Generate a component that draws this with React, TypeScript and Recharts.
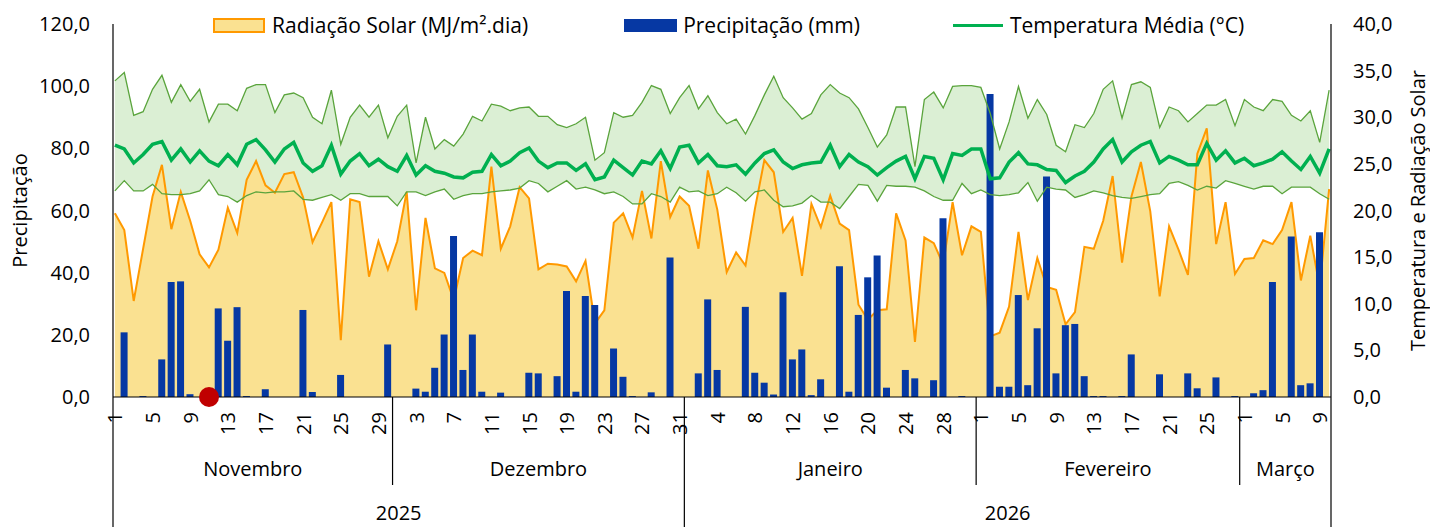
import React from "react";
import { ComposedChart, Area, Bar, Line, Scatter, XAxis, YAxis } from "recharts";

const FONT = "'Open Sans', 'Noto Sans', sans-serif";

const meses = [
  { nome: "Novembro", dias: 30, ano: 2025 },
  { nome: "Dezembro", dias: 31, ano: 2025 },
  { nome: "Janeiro", dias: 31, ano: 2026 },
  { nome: "Fevereiro", dias: 28, ano: 2026 },
  { nome: "Março", dias: 10, ano: 2026 },
];

const precipitacao = [
  0, 20.8, 0, 0.3, 0, 12.1, 37.0, 37.2, 0.9, 0,
  0, 28.5, 18.1, 28.9, 0.3, 0, 2.5, 0, 0, 0,
  28.0, 1.6, 0, 0, 7.1, 0, 0, 0, 0, 16.9,
  0, 0, 2.7, 1.7, 9.4, 20.1, 51.8, 8.7, 20.1, 1.7,
  0, 1.4, 0, 0, 7.8, 7.6, 0, 6.7, 34.1, 1.7,
  32.5, 29.6, 0, 15.6, 6.5, 0.3, 0, 1.5, 0, 44.9,
  0, 0, 7.6, 31.4, 8.7, 0, 0, 29.0, 7.8, 4.6,
  0.8, 33.7, 12.1, 15.3, 0.6, 5.7, 0, 42.1, 1.7, 26.4,
  38.5, 45.5, 3.0, 0, 8.7, 6.0, 0, 5.4, 57.5, 0,
  0.3, 0, 0, 97.5, 3.3, 3.3, 32.8, 3.8, 22.1, 70.9,
  7.6, 23.1, 23.5, 6.7, 0.3, 0.3, 0, 0.3, 13.7, 0,
  0, 7.3, 0, 0, 7.6, 2.8, 0, 6.3, 0, 0.3,
  0, 1.2, 2.2, 37.0, 0, 51.6, 3.8, 4.4, 53.0, 0,
];

const radiacao = [
  19.7, 17.9, 10.3, 15.9, 21.5, 24.9, 18.0, 22.0, 18.9, 15.3,
  13.9, 15.8, 20.3, 17.6, 23.3, 25.3, 22.7, 21.9, 23.9, 24.1,
  21.4, 16.6, 18.7, 20.9, 6.1, 21.2, 20.9, 12.9, 16.7, 13.7,
  16.7, 22.0, 9.3, 19.2, 13.8, 13.3, 10.4, 14.9, 15.7, 15.2,
  24.7, 15.9, 18.3, 22.5, 21.3, 13.7, 14.3, 14.2, 14.0, 12.4,
  14.6, 7.9, 9.3, 18.7, 19.7, 17.1, 22.1, 17.0, 25.3, 19.3,
  21.5, 20.5, 15.9, 24.3, 20.1, 13.4, 15.5, 14.1, 20.2, 25.4,
  24.1, 17.7, 19.2, 13.0, 20.7, 18.2, 21.6, 18.6, 17.9, 9.9,
  8.3, 9.3, 9.4, 19.7, 16.8, 5.9, 17.1, 16.5, 14.2, 20.9,
  15.2, 18.3, 17.7, 6.5, 6.9, 9.7, 17.7, 10.4, 14.9, 11.8,
  11.5, 7.8, 9.1, 16.1, 15.9, 18.9, 23.7, 14.4, 21.5, 25.2,
  19.9, 10.8, 18.3, 15.8, 13.1, 26.1, 28.8, 16.4, 20.9, 13.2,
  14.8, 14.9, 16.8, 16.4, 17.9, 20.9, 12.5, 17.3, 11.8, 22.3,
];

const tempMedia = [
  27.0, 26.6, 25.1, 26.0, 27.1, 27.4, 25.4, 26.6, 25.2, 26.4,
  25.3, 24.8, 26.0, 24.9, 27.1, 27.6, 26.5, 25.2, 26.6, 27.3,
  25.1, 24.2, 24.8, 27.0, 23.9, 25.3, 26.1, 24.8, 25.5, 24.7,
  24.2, 25.9, 23.8, 24.8, 24.2, 24.0, 23.6, 23.5, 24.1, 24.2,
  26.0, 24.8, 25.3, 26.2, 26.7, 25.3, 24.6, 25.1, 25.1, 24.3,
  25.0, 23.3, 23.6, 25.4, 24.6, 23.8, 25.3, 25.0, 26.4, 24.5,
  26.8, 27.0, 25.1, 26.0, 24.8, 24.7, 24.9, 23.9, 25.1, 26.1,
  26.5, 25.2, 24.5, 24.9, 25.1, 25.2, 27.0, 24.7, 26.0, 25.2,
  24.7, 23.8, 24.6, 25.3, 25.8, 23.4, 25.8, 25.6, 23.3, 26.1,
  25.9, 26.6, 26.6, 23.4, 23.5, 25.2, 26.2, 25.0, 24.9, 24.4,
  24.3, 23.0, 23.7, 24.2, 25.2, 26.6, 27.6, 25.2, 26.3, 27.0,
  27.4, 25.1, 25.8, 25.4, 24.9, 24.9, 27.2, 25.4, 26.4, 25.1,
  25.6, 24.8, 25.1, 25.5, 26.3, 25.3, 24.4, 25.8, 24.0, 26.6,
];

const tempMin = [
  22.1, 23.2, 22.1, 22.1, 22.8, 21.8, 21.7, 21.7, 21.8, 22.1,
  23.3, 21.7, 21.5, 20.9, 21.6, 22.0, 21.9, 22.0, 22.0, 22.1,
  21.2, 21.1, 21.4, 21.7, 21.1, 21.8, 21.8, 21.5, 21.5, 21.5,
  20.5, 22.0, 22.0, 21.6, 22.0, 22.3, 21.2, 21.6, 21.8, 21.8,
  22.0, 22.1, 22.2, 22.4, 23.2, 22.9, 22.0, 22.6, 23.2, 22.3,
  22.5, 22.2, 21.8, 22.0, 21.5, 20.7, 20.7, 21.8, 21.5, 20.9,
  22.5, 22.0, 22.1, 21.6, 21.8, 22.5, 21.9, 21.0, 22.0, 22.2,
  21.1, 20.4, 20.5, 20.8, 21.6, 20.9, 20.9, 20.2, 21.5, 22.8,
  22.7, 21.0, 22.7, 22.6, 22.6, 22.5, 22.1, 21.5, 21.1, 21.1,
  22.9, 21.8, 22.2, 21.7, 21.6, 21.7, 21.9, 23.0, 21.0, 22.5,
  22.3, 22.2, 21.4, 21.7, 22.1, 21.9, 21.6, 21.4, 21.3, 21.5,
  21.7, 21.8, 22.9, 23.1, 22.7, 22.2, 22.6, 22.4, 23.2, 22.9,
  22.6, 22.3, 22.6, 22.6, 21.8, 22.5, 22.5, 22.5, 21.8, 21.2,
];

const tempMax = [
  33.9, 34.8, 30.2, 30.6, 33.0, 34.5, 31.6, 33.5, 31.7, 33.0,
  29.5, 31.4, 31.4, 30.7, 33.1, 33.5, 33.5, 30.5, 32.4, 32.6,
  32.1, 30.0, 29.3, 32.9, 27.1, 30.0, 31.3, 30.0, 31.3, 27.8,
  30.1, 31.3, 25.1, 30.0, 26.6, 27.6, 26.9, 28.2, 30.1, 29.6,
  31.4, 31.2, 30.7, 31.0, 31.1, 30.1, 30.1, 29.2, 28.9, 29.3,
  30.0, 25.4, 26.2, 30.5, 30.0, 30.2, 31.6, 33.4, 33.0, 30.4,
  32.1, 33.4, 30.9, 32.3, 30.5, 29.3, 29.8, 28.2, 30.2, 32.4,
  34.4, 32.1, 31.0, 29.8, 30.4, 32.4, 33.5, 32.6, 32.1, 30.9,
  28.9, 26.8, 28.1, 31.1, 31.1, 24.7, 31.9, 32.7, 31.0, 33.3,
  33.4, 33.4, 33.2, 30.4, 26.6, 29.5, 33.3, 29.9, 31.9, 30.3,
  27.0, 26.3, 29.2, 28.9, 30.4, 33.0, 33.9, 29.9, 33.5, 33.8,
  33.2, 28.9, 31.1, 30.7, 29.5, 30.4, 31.3, 31.3, 31.9, 29.1,
  31.9, 31.1, 30.7, 31.9, 31.7, 30.2, 29.6, 30.7, 27.3, 32.9,
];

// dia destacado em vermelho (11 de novembro)
const diaDestaque = 10;

const ticksPrec = [0, 20, 40, 60, 80, 100, 120];
const ticksTemp = [0, 5, 10, 15, 20, 25, 30, 35, 40];

const X_MIN = -0.2;
const X_MAX = 129.2;

const diaDoMes = meses.flatMap((m) => Array.from({ length: m.dias }, (_, d) => d + 1));

const dados = precipitacao.map((p, i) => ({
  i,
  prec: p,
  rad: radiacao[i],
  tmed: tempMedia[i],
  tmin: tempMin[i],
  tmax: tempMax[i],
  faixa: [tempMin[i], tempMax[i]],
}));

type Item = { tipo: "dia" | "sep" | "borda" | "mes" | "ano"; texto?: string };
const eixo = new Map<number, Item[]>();
const add = (v: number, it: Item) => eixo.set(v, [...(eixo.get(v) || []), it]);

for (let i = 0; i < diaDoMes.length; i += 4) add(i, { tipo: "dia", texto: String(diaDoMes[i]) });
add(X_MIN, { tipo: "borda" });
add(X_MAX, { tipo: "borda" });
{
  let ini = 0;
  const anos: Record<number, [number, number]> = {};
  meses.forEach((m, k) => {
    const a = k === 0 ? X_MIN : ini - 0.5;
    const b = k === meses.length - 1 ? X_MAX : ini + m.dias - 0.5;
    add((a + b) / 2, { tipo: "mes", texto: m.nome });
    if (k < meses.length - 1) {
      add(b, { tipo: meses[k + 1].ano !== m.ano ? "borda" : "sep" });
    }
    anos[m.ano] = anos[m.ano] ? [anos[m.ano][0], b] : [a, b];
    ini += m.dias;
  });
  Object.entries(anos).forEach(([ano, [a, b]]) => add((a + b) / 2, { tipo: "ano", texto: ano }));
}
const ticksX = Array.from(eixo.keys()).sort((a, b) => a - b);

const fmt = (v: number) => v.toFixed(1).replace(".", ",");

function TickX(props: any) {
  const { x, y, payload } = props;
  const itens = eixo.get(payload.value) || [];
  const txt = { fontFamily: FONT, fontSize: 20, fill: "#000" };
  return (
    <g>
      {itens.map((it, k) => {
        if (it.tipo === "dia")
          return (
            <text key={k} x={x} y={y + 15} transform={`rotate(-90 ${x} ${y + 15})`} textAnchor="end" dominantBaseline="central" {...txt}>
              {it.texto}
            </text>
          );
        if (it.tipo === "sep") return <line key={k} x1={x} x2={x} y1={y} y2={y + 88} stroke="#000" strokeWidth={1.2} />;
        if (it.tipo === "borda") return <line key={k} x1={x} x2={x} y1={y} y2={y + 130} stroke="#000" strokeWidth={1.2} />;
        if (it.tipo === "mes")
          return (
            <text key={k} x={x} y={y + 79} textAnchor="middle" {...txt}>
              {it.texto}
            </text>
          );
        return (
          <text key={k} x={x} y={y + 123} textAnchor="middle" {...txt}>
            {it.texto}
          </text>
        );
      })}
    </g>
  );
}

const tituloY = (dx: number) => (props: any) => {
  const vb = props.viewBox;
  const cx = vb.x + dx;
  const cy = vb.y + vb.height / 2;
  return (
    <text x={cx} y={cy} transform={`rotate(-90 ${cx} ${cy})`} textAnchor="middle" dominantBaseline="central" fontFamily={FONT} fontSize={20} fill="#000">
      {props.value}
    </text>
  );
};

function Legenda() {
  const item = { display: "flex", alignItems: "center" } as const;
  return (
    <div
      style={{
        position: "absolute",
        left: 213,
        top: 12,
        display: "flex",
        alignItems: "center",
        fontFamily: FONT,
        fontSize: 21,
        color: "#000",
        whiteSpace: "nowrap",
        lineHeight: "26px",
      }}
    >
      <div style={item}>
        <span style={{ width: 48, height: 11, background: "#FAE191", border: "2px solid #FF9900", marginRight: 7 }} />
        Radiação Solar (MJ/m².dia)
      </div>
      <div style={{ ...item, marginLeft: 96 }}>
        <span style={{ width: 53, height: 13, background: "#0638A3", marginRight: 6 }} />
        Precipitação (mm)
      </div>
      <div style={{ ...item, marginLeft: 93 }}>
        <span style={{ width: 50, height: 3, background: "#00B050", marginRight: 7 }} />
        Temperatura Média (°C)
      </div>
    </div>
  );
}

export default function App() {
  const tick = { fontFamily: FONT, fontSize: 20, fill: "#000" };
  return (
    <div style={{ position: "absolute", left: 0, top: 0, width: 1430, height: 527, background: "#fff" }}>
      <ComposedChart width={1430} height={527} data={dados} margin={{ top: 24, right: 0, bottom: 0, left: 0 }}>
        <XAxis
          dataKey="i"
          type="number"
          domain={[X_MIN, X_MAX]}
          ticks={ticksX}
          interval={0}
          height={130}
          tickLine={false}
          tickSize={0}
          tickMargin={0}
          axisLine={{ stroke: "#000", strokeWidth: 1.2 }}
          tick={(p: any) => <TickX {...p} />}
        />
        <YAxis
          yAxisId="left"
          domain={[0, 120]}
          ticks={ticksPrec}
          tickFormatter={fmt}
          width={113}
          tickLine={false}
          tickSize={0}
          tickMargin={23}
          axisLine={{ stroke: "#000", strokeWidth: 1.2 }}
          tick={tick}
          label={{ value: "Precipitação", content: tituloY(19) }}
        />
        <YAxis
          yAxisId="right"
          orientation="right"
          domain={[0, 40]}
          ticks={ticksTemp}
          tickFormatter={fmt}
          width={99}
          tickLine={false}
          tickSize={0}
          tickMargin={22}
          axisLine={{ stroke: "#000", strokeWidth: 1.2 }}
          tick={tick}
          label={{ value: "Temperatura e Radiação Solar", content: tituloY(86) }}
        />
        <Area yAxisId="right" dataKey="faixa" type="linear" stroke="none" fill="#DBEFD4" fillOpacity={1} isAnimationActive={false} />
        <Area yAxisId="right" dataKey="rad" type="linear" stroke="#FF9900" strokeWidth={2} fill="#FAE191" fillOpacity={1} isAnimationActive={false} />
        <Bar yAxisId="left" dataKey="prec" fill="#0638A3" barSize={7} isAnimationActive={false} />
        <Line yAxisId="right" dataKey="tmax" type="linear" stroke="#5AA43C" strokeWidth={1.3} dot={false} isAnimationActive={false} />
        <Line yAxisId="right" dataKey="tmin" type="linear" stroke="#5AA43C" strokeWidth={1.3} dot={false} isAnimationActive={false} />
        <Line yAxisId="right" dataKey="tmed" type="linear" stroke="#00B050" strokeWidth={3.5} dot={false} isAnimationActive={false} />
        <Scatter
          yAxisId="left"
          data={[{ i: diaDestaque, prec: 0 }]}
          dataKey="prec"
          isAnimationActive={false}
          shape={(p: any) => <circle cx={p.cx} cy={p.cy} r={10} fill="#C00000" />}
        />
      </ComposedChart>
      <Legenda />
    </div>
  );
}
